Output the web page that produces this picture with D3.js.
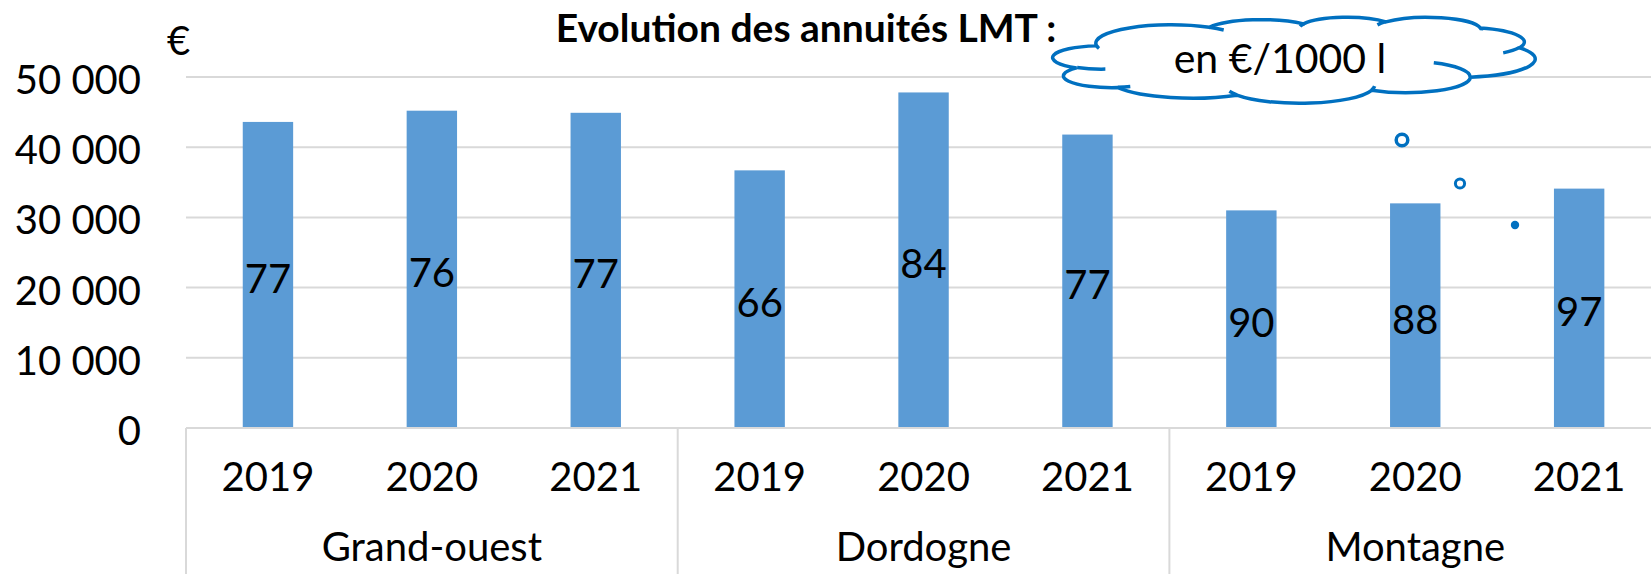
<!DOCTYPE html>
<html lang="fr">
<head>
<meta charset="utf-8">
<title>Evolution des annuités LMT</title>
<script src="https://d3js.org/d3.v7.min.js"></script>
<style>
  html, body { margin: 0; padding: 0; background: #fff; }
  svg { display: block; font-family: Lato, "Open Sans", sans-serif; }
</style>
</head>
<body>
<div id="chart"></div>
<script>
// data
const groups = ["Grand-ouest", "Dordogne", "Montagne"];
const years = ["2019", "2020", "2021"];
const annuites = [43600, 45200, 44900, 36700, 47800, 41800, 31000, 32000, 34100];
const parMilleLitres = [77, 76, 77, 66, 84, 77, 90, 88, 97];
const yTicks = [0, 10000, 20000, 30000, 40000, 50000];

const width = 1651, height = 574;
const left = 186, step = 163.9;
const right = left + step * 9;   // last group runs past the right edge
const y0 = 428, yTop = 77;

const rows = [];
groups.forEach((g, gi) => years.forEach((yr, yi) => {
  const i = gi * 3 + yi;
  rows.push({ key: g + "|" + yr, group: g, year: yr, value: annuites[i], label: parMilleLitres[i] });
}));

const svg = d3.select("#chart").append("svg")
  .attr("width", width).attr("height", height);

const x = d3.scaleBand()
  .domain(rows.map(d => d.key))
  .range([left, right])
  .paddingInner(0.6925)
  .paddingOuter(0.34625);

const xg = d3.scaleBand().domain(groups).range([left, right]);

const y = d3.scaleLinear().domain([0, 50000]).range([y0, yTop]);

const fmt = d3.formatLocale({ thousands: "\u00a0", grouping: [3], decimal: ",", currency: ["", "€"] }).format(",");

// gridlines
svg.append("g")
  .selectAll("line")
  .data(yTicks.filter(t => t > 0))
  .join("line")
  .attr("x1", left).attr("x2", width)
  .attr("y1", d => y(d)).attr("y2", d => y(d))
  .attr("stroke", "#d9d9d9").attr("stroke-width", 2);

// y labels
svg.append("g")
  .selectAll("text")
  .data(yTicks)
  .join("text")
  .attr("x", 141)
  .attr("y", d => y(d) + 2)
  .attr("text-anchor", "end")
  .attr("dominant-baseline", "central")
  .attr("font-size", 40)
  .text(d => fmt(d));

svg.append("text")
  .attr("x", 167).attr("y", 55)
  .attr("font-size", 40)
  .text("€");

// bars
svg.append("g")
  .selectAll("rect")
  .data(rows)
  .join("rect")
  .attr("x", d => x(d.key))
  .attr("width", x.bandwidth())
  .attr("y", d => y(d.value))
  .attr("height", d => y0 - y(d.value))
  .attr("fill", "#5b9bd5");

// labels in the middle of the bars (€/1000 l)
svg.append("g")
  .selectAll("text")
  .data(rows)
  .join("text")
  .attr("x", d => x(d.key) + x.bandwidth() / 2)
  .attr("y", d => (y(d.value) + y0) / 2 + 3)
  .attr("text-anchor", "middle")
  .attr("dominant-baseline", "central")
  .attr("font-size", 40)
  .text(d => d.label);

// category axis, two levels
const axis = svg.append("g").attr("stroke", "#d9d9d9").attr("stroke-width", 2);
axis.append("line")
  .attr("x1", left).attr("x2", width)
  .attr("y1", y0).attr("y2", y0);
axis.selectAll("line.sep")
  .data(groups)
  .join("line")
  .attr("class", "sep")
  .attr("x1", d => xg(d)).attr("x2", d => xg(d))
  .attr("y1", y0).attr("y2", height);

svg.append("g")
  .selectAll("text")
  .data(rows)
  .join("text")
  .attr("x", d => x(d.key) + x.bandwidth() / 2)
  .attr("y", 491)
  .attr("text-anchor", "middle")
  .attr("font-size", 40)
  .text(d => d.year);

svg.append("g")
  .selectAll("text")
  .data(groups)
  .join("text")
  .attr("x", d => xg(d) + xg.bandwidth() / 2)
  .attr("y", 561)
  .attr("text-anchor", "middle")
  .attr("font-size", 40)
  .text(d => d);

// title
svg.append("text")
  .attr("x", 806).attr("y", 42)
  .attr("text-anchor", "middle")
  .attr("font-size", 39)
  .attr("font-weight", "bold")
  .text("Evolution des annuités LMT :");

// cloud callout (office "cloud" outline), built in its 43200 box then scaled
function cloud() {
  const rad = a => a / 60000 * Math.PI / 180;
  let cur, d = "";
  const moveTo = (px, py) => { cur = [px, py]; d += "M" + px + "," + py; };
  const arcTo = (rx, ry, st, sw) => {
    const a1 = rad(st), a2 = rad(st + sw);
    const t1 = Math.atan2(rx * Math.sin(a1), ry * Math.cos(a1));
    const t2 = Math.atan2(rx * Math.sin(a2), ry * Math.cos(a2));
    const cx = cur[0] - rx * Math.cos(t1), cy = cur[1] - ry * Math.sin(t1);
    const ex = cx + rx * Math.cos(t2), ey = cy + ry * Math.sin(t2);
    const large = Math.abs(sw) > 180 * 60000 ? 1 : 0;
    const sweep = sw > 0 ? 1 : 0;
    d += `A${rx},${ry} 0 ${large} ${sweep} ${ex},${ey}`;
    cur = [ex, ey];
  };
  moveTo(3900, 14370);
  arcTo(6753, 9190, -11429249, 7426832);
  arcTo(5333, 7267, -8646143, 5396714);
  arcTo(4365, 5945, -8748475, 5983381);
  arcTo(4857, 6595, -7859164, 7034504);
  arcTo(5333, 7273, -4722533, 6541615);
  arcTo(6775, 9220, -2776035, 7816140);
  arcTo(5785, 7867, 37501, 6842000);
  arcTo(6752, 9215, 1347096, 6910353);
  arcTo(7720, 10543, 3974558, 4542661);
  arcTo(4360, 5918, -16496525, 8804134);
  arcTo(4345, 5945, -14809710, 9151131);
  const outline = d + "Z";
  d = "";
  moveTo(4693, 26177); arcTo(4345, 5945, 5204520, 1585770);
  moveTo(6928, 34899); arcTo(4360, 5918, 4416628, 686848);
  moveTo(16478, 39090); arcTo(6752, 9215, 8257449, 844866);
  moveTo(28827, 34751); arcTo(6752, 9215, 387196, 959901);
  moveTo(34129, 22954); arcTo(5785, 7867, -4217541, 4255042);
  moveTo(41798, 15354); arcTo(5333, 7273, 1819082, 1665090);
  moveTo(38324, 5426); arcTo(4857, 6595, -824660, 891534);
  moveTo(29078, 3952); arcTo(4857, 6595, -8950887, 1091722);
  moveTo(22141, 4720); arcTo(4365, 5945, -9809656, 1061181);
  moveTo(14000, 5192); arcTo(6753, 9190, -4002417, 739161);
  moveTo(4127, 15789); arcTo(6753, 9190, 9459261, 711236);
  return { outline, inner: d };
}

const blue = "#0070c0";
const c = cloud();
const cw = 482, ch = 86;
const cg = svg.append("g")
  .attr("transform", `translate(1053,17) scale(${cw / 43200},${ch / 43200})`);
cg.append("path").attr("d", c.outline)
  .attr("fill", "#fff").attr("stroke", blue).attr("stroke-width", 3.5)
  .attr("vector-effect", "non-scaling-stroke");
cg.append("path").attr("d", c.inner)
  .attr("fill", "none").attr("stroke", blue).attr("stroke-width", 3.5)
  .attr("vector-effect", "non-scaling-stroke");

svg.append("text")
  .attr("x", 1280).attr("y", 73)
  .attr("text-anchor", "middle")
  .attr("font-size", 41)
  .text("en €/1000 l");

// callout tail bubbles
svg.append("circle").attr("cx", 1402).attr("cy", 140).attr("r", 5.8)
  .attr("fill", "#fff").attr("stroke", blue).attr("stroke-width", 3.5);
svg.append("circle").attr("cx", 1460).attr("cy", 183.5).attr("r", 4.6)
  .attr("fill", "#fff").attr("stroke", blue).attr("stroke-width", 3);
svg.append("circle").attr("cx", 1515).attr("cy", 225).attr("r", 4.2)
  .attr("fill", blue);
</script>
</body>
</html>
